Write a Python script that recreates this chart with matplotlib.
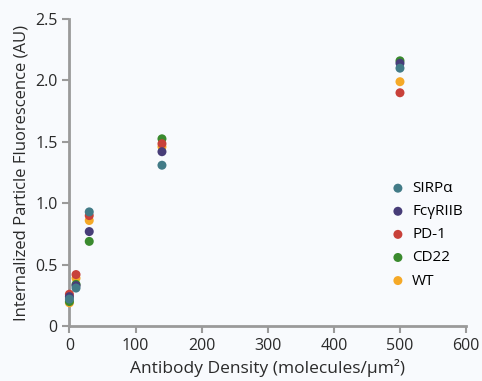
import matplotlib
matplotlib.use('Agg')
import matplotlib.pyplot as plt

plt.rcParams['font.family'] = ['Open Sans', 'DejaVu Sans']

density = [0, 10, 30, 140, 500]
labels = ['SIRPα', 'FcγRIIB', 'PD-1', 'CD22', 'WT']
colors = ['#427b87', '#473d78', '#c8413a', '#3a8a2e', '#f5a927']
sirpa = [0.22, 0.31, 0.93, 1.31, 2.10]
fcgr = [0.24, 0.33, 0.77, 1.42, 2.14]
pd1 = [0.26, 0.42, 0.90, 1.485, 1.90]
cd22 = [0.20, 0.34, 0.69, 1.525, 2.16]
wt = [0.19, 0.39, 0.86, 1.46, 1.99]
series = [sirpa, fcgr, pd1, cd22, wt]

fig = plt.figure(figsize=(4.82, 3.81), dpi=100)
fig.patch.set_facecolor('#f8fafd')
ax = fig.add_axes([0.144, 0.144, 0.823, 0.806])
ax.set_facecolor('#f8fafd')

# draw WT first so SIRPa ends on top
for i in reversed(range(len(series))):
    ax.scatter(density, series[i], s=42, color=colors[i], label=labels[i],
               edgecolors='none', zorder=3, clip_on=False)

ax.set_xlim(0, 600)
ax.set_ylim(0, 2.5)
ax.set_xticks([0, 100, 200, 300, 400, 500, 600])
ax.set_yticks([0, 0.5, 1.0, 1.5, 2.0, 2.5])
ax.set_yticklabels(['0', '0.5', '1.0', '1.5', '2.0', '2.5'])
for s in ['top', 'right']:
    ax.spines[s].set_visible(False)
for s in ['left', 'bottom']:
    ax.spines[s].set_color('#9a9a9a')
    ax.spines[s].set_linewidth(2)
ax.tick_params(colors='#9a9a9a', width=1.5, length=5, labelsize=11.5,
               labelcolor='#2a2a2a')
ax.set_xlabel('Antibody Density (molecules/µm²)', fontsize=12.5, color='#2a2a2a')
ax.set_ylabel('Internalized Particle Fluorescence (AU)', fontsize=12, color='#2a2a2a')

h, l = ax.get_legend_handles_labels()
ax.legend(h[::-1], l[::-1], loc='upper left', bbox_to_anchor=(0.805, 0.472),
          frameon=False, fontsize=11, handletextpad=0.33, labelspacing=0.53,
          borderpad=0, handlelength=1.2, borderaxespad=0)

fig.savefig('out.png', dpi=100, facecolor=fig.get_facecolor())
